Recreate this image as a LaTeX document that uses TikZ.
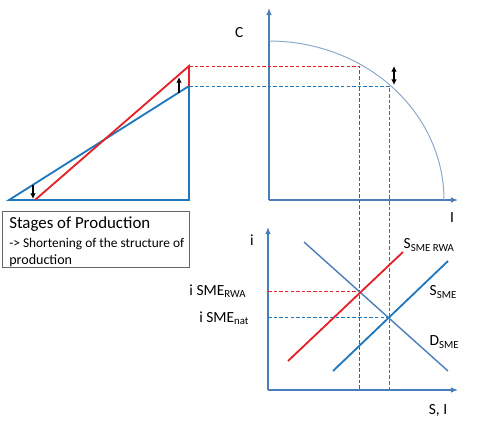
\documentclass[tikz,border=0pt]{standalone}
\usepackage{fontspec}
\setmainfont{Carlito}
\usetikzlibrary{arrows.meta}
\definecolor{axisblue}{RGB}{74,126,187}
\definecolor{lineblue}{RGB}{31,119,190}
\definecolor{linered}{RGB}{228,32,40}
\definecolor{ppfblue}{RGB}{140,168,204}
\tikzset{
  axis/.style={axisblue,line width=0.9pt,-{Latex[length=5pt,width=4pt]}},
  redline/.style={linered,line width=1.3pt},
  blueline/.style={lineblue,line width=1.3pt},
  reddash/.style={linered,dash pattern=on 2.5pt off 1.5pt,line width=0.7pt},
  bluedash/.style={lineblue,dash pattern=on 2.5pt off 1.5pt,line width=0.7pt},
  shift arrow/.style={line width=1pt,-{Latex[length=4pt,width=4pt]}},
  lbl/.style={font=\fontsize{11}{12}\selectfont,inner sep=1pt}
}
\begin{document}
\begin{tikzpicture}[x=0.025cm,y=-0.025cm]
\useasboundingbox (0,0) rectangle (479,427);
% PPF axes
\draw[axis] (269,200)--(269,8);
\draw[axis] (269,200)--(458,200);
\node[lbl,anchor=east] (C) at (245,33) {C};
\node[lbl] (I) at (452,218) {I};
\draw[ppfblue,line width=0.7pt,smooth] plot[domain=90:0,samples=60] ({269+175*cos(\x)},{200-159*sin(\x)});
\draw[line width=1pt,{Latex[length=4pt,width=4pt]}-{Latex[length=4pt,width=4pt]}] (394,66)--(394,85);
% stages triangle
\draw[blueline] (9,200)--(189,200)--(189,86)--cycle;
\draw[redline] (35,200)--(189,66)--(189,86);
\draw[shift arrow] (179,93)--(179,77);
\draw[shift arrow] (33,185)--(33,199);
\draw[gray!80!black,line width=0.6pt] (2,211) rectangle (189,267);
\node[anchor=north west,align=left,inner sep=0pt] (box) at (9,217)
  {\fontsize{12}{13}\selectfont Stages of Production\\[1pt]
   \fontsize{9.5}{13}\selectfont -> Shortening of the structure of\\production};
% projections
\draw[reddash] (189,66)--(359,66)--(359,390);
\draw[bluedash] (189,86)--(389,86)--(389,390);
% market axes
\draw[axis] (268,390)--(268,227);
\draw[axis] (268,390)--(458,390);
\node[lbl] (i) at (252,240) {i};
\node[lbl] (SI) at (438,410) {S, I};
\draw[reddash] (268,291)--(359,291);
\draw[bluedash] (268,317)--(389,317);
\draw[axisblue,line width=1pt] (304,242)--(448,371);
\draw[redline] (288,361)--(403,252);
\draw[blueline] (333,371)--(448,261);
\node[lbl,anchor=west] (Srwa) at (402,245) {S\textsubscript{SME RWA}};
\node[lbl,anchor=west] (Ssme) at (428,292) {S\textsubscript{SME}};
\node[lbl,anchor=west] (Dsme) at (428,342) {D\textsubscript{SME}};
\node[lbl,anchor=east] (irwa) at (248,291) {i SME\textsubscript{RWA}};
\node[lbl,anchor=east] (inat) at (251,318) {i SME\textsubscript{nat}};
\end{tikzpicture}
\end{document}
